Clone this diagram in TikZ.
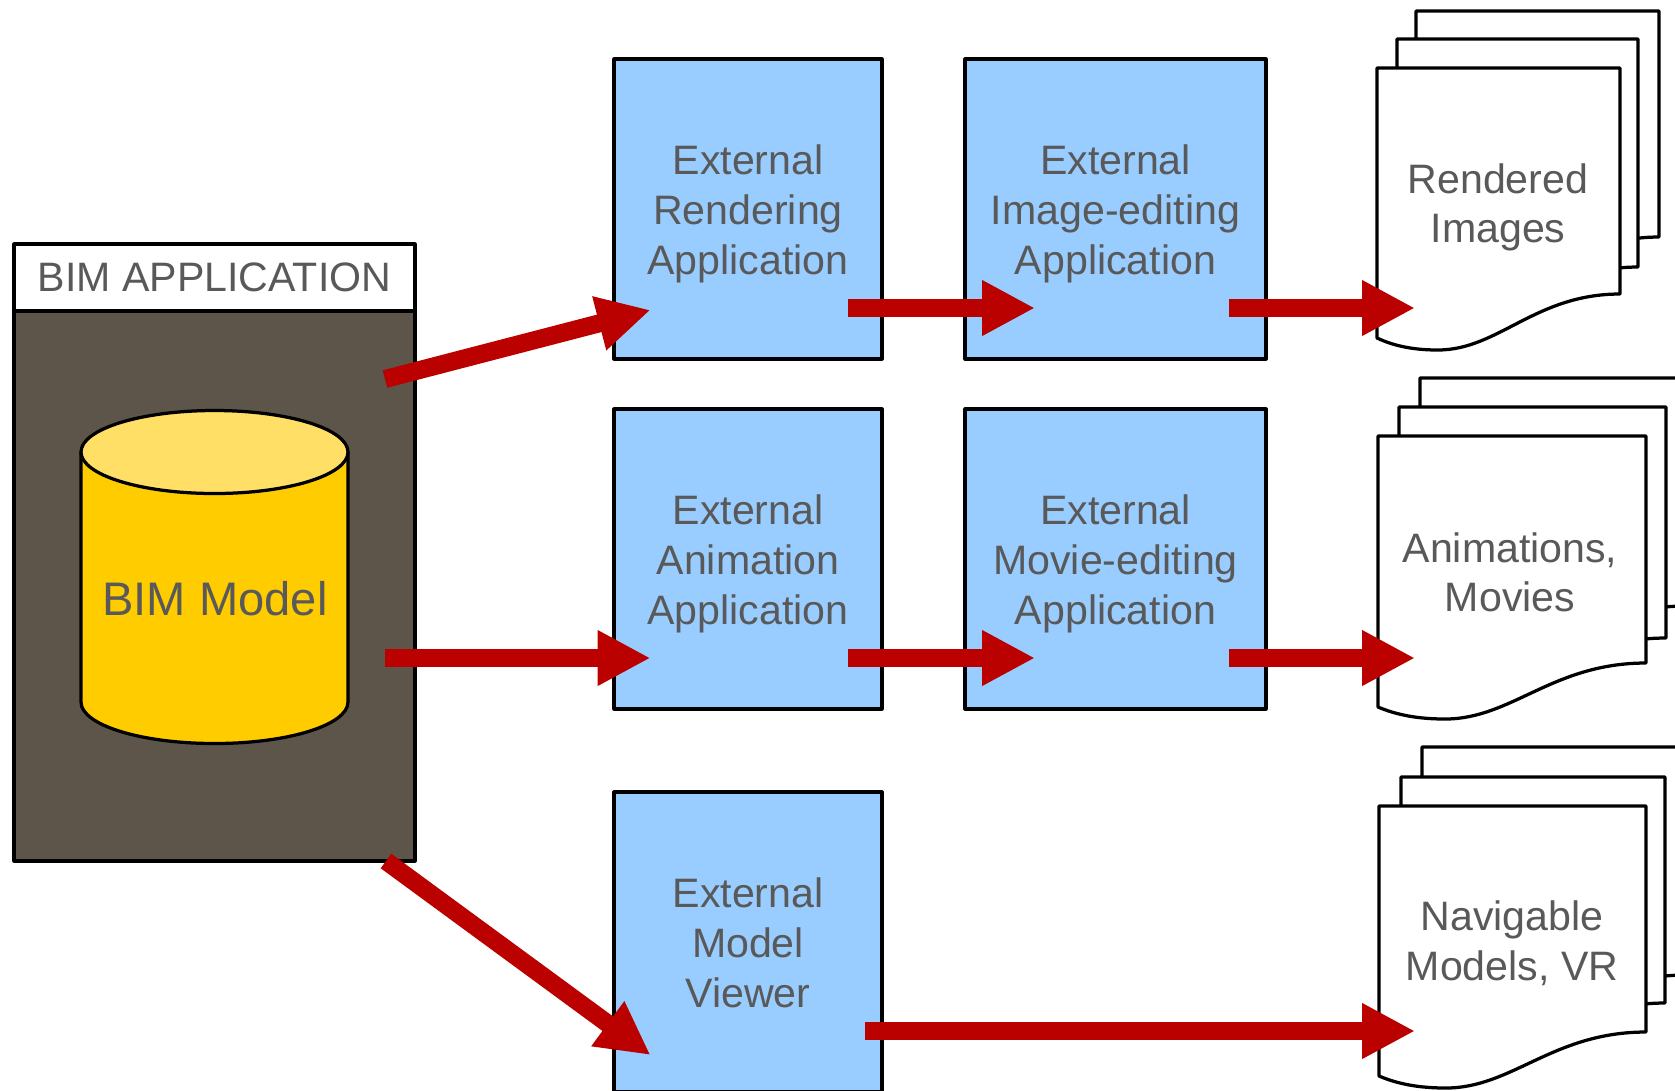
\documentclass[tikz,border=0pt]{standalone}
\usepackage{fontspec}
\setmainfont{Liberation Sans}
\usetikzlibrary{arrows.meta}
\definecolor{appbrown}{HTML}{5D5549}
\definecolor{appblue}{HTML}{99CCFF}
\definecolor{dbyellow}{HTML}{FFCC00}
\definecolor{dbtop}{HTML}{FFDF66}
\definecolor{flowred}{HTML}{BB0000}
\definecolor{labelgray}{HTML}{595959}
\tikzset{
	outline/.style={draw=black, line width=0.065cm, line join=round},
	label/.style={text=labelgray, align=center, inner sep=0pt, font=\fontsize{23.4}{28.2}\selectfont},
	appbox/.style={outline, label, fill=appblue, minimum height=6cm, text height=80pt, text depth=6pt},
	narrowbox/.style={appbox, minimum width=5.36cm},
	widebox/.style={appbox, minimum width=6.02cm},
	flow/.style={flowred, line width=0.36cm, -{Triangle[length=1.06cm, width=1.04cm]}}
}
% sheet: left, top, right, bottom of right edge
\newcommand{\sheet}[4]{
	\pgfmathsetmacro{\wid}{#3-#1}
	\draw[outline, fill=white] (#1,#2) -- (#3,#2) -- (#3,#4)
		.. controls ({#3-0.35*\wid},#4) and ({#3-0.5*\wid},{#4+56}) .. ({#1+0.25*\wid},{#4+56})
		.. controls ({#1+0.15*\wid},{#4+56}) and ({#1+0.07*\wid},{#4+52}) .. (#1,{#4+44}) -- cycle;
}
\begin{document}
\begin{tikzpicture}[x=0.02cm, y=-0.02cm]
	\useasboundingbox (0,0) rectangle (1675,1090);

	\node[outline, fill=appbrown, minimum width=8.02cm, minimum height=11cm] (bimbody) at (214.5,586) {};
	\node[outline, label, fill=white, minimum width=8.02cm, minimum height=1.34cm] (bimhead) at (214.5,277.5) {BIM APPLICATION};

	\draw[outline, fill=dbyellow] (81,452) -- (81,702) arc[start angle=180, end angle=0, x radius=133.5, y radius=41.5] -- (348,452);
	\draw[outline, fill=dbtop] (214.5,452) ellipse[x radius=133.5, y radius=41.5];
	\node[label, font=\fontsize{26.8}{32}\selectfont] (bimmodel) at (215,598.5) {BIM Model};

	\node[narrowbox] (rendering) at (748,209) {External\\Rendering\\Application};
	\node[widebox] (imageedit) at (1115.5,209) {External\\Image-editing\\Application};
	\node[narrowbox] (animation) at (748,559) {External\\Animation\\Application};
	\node[widebox] (movieedit) at (1115.5,559) {External\\Movie-editing\\Application};
	\node[narrowbox] (viewer) at (748,942) {External\\Model\\Viewer};

	\sheet{1416}{11}{1659}{237}
	\sheet{1397}{39}{1638}{267}
	\sheet{1377}{68}{1620}{294}
	\node[label] (images) at (1498,207.5) {Rendered\\Images};

	\sheet{1420}{378}{1686}{606}
	\sheet{1399}{407}{1666}{638}
	\sheet{1378}{436}{1646}{663}
	\node[label] (movies) at (1510,572.5) {Animations,\\Movies};

	\sheet{1422}{747}{1686}{975}
	\sheet{1401}{777}{1665}{1003}
	\sheet{1379}{806}{1646}{1032}
	\node[label] (models) at (1512,943) {Navigable\\Models, VR};

	\coordinate (bimtop) at (385,379);
	\coordinate (bimmid) at (385,658);
	\coordinate (bimlow) at (386,861);
	\coordinate (renderin) at (650.5,310);
	\coordinate (renderout) at (848,308);
	\coordinate (imagein) at (1035,308);
	\coordinate (imageout) at (1229,308);
	\coordinate (sheetin) at (1415,308);
	\coordinate (animin) at (650.5,658);
	\coordinate (animout) at (848,658);
	\coordinate (moviein) at (1035,658);
	\coordinate (movieout) at (1229,658);
	\coordinate (moviesheet) at (1415,658);
	\coordinate (viewin) at (650.5,1055);
	\coordinate (viewout) at (865,1031);
	\coordinate (viewsheet) at (1415,1031);

	\foreach \a/\b in {bimtop/renderin, bimmid/animin, bimlow/viewin, renderout/imagein, imageout/sheetin, animout/moviein, movieout/moviesheet, viewout/viewsheet} {
		\draw[flow] (\a) -- (\b);
	}
\end{tikzpicture}
\end{document}
